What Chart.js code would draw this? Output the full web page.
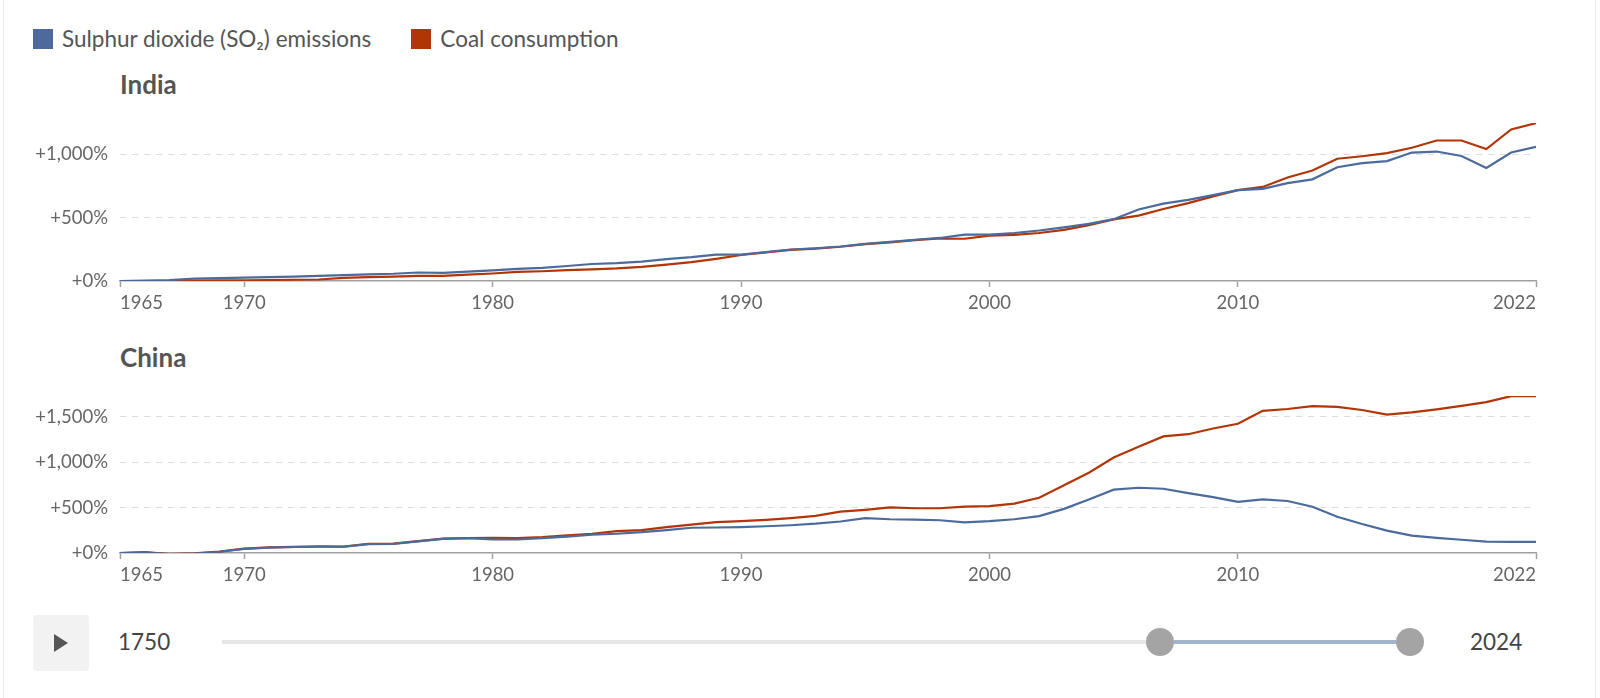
<!DOCTYPE html>
<html>
<head>
<meta charset="utf-8">
<script src="https://cdn.jsdelivr.net/npm/chart.js@4.4.1/dist/chart.umd.min.js"></script>
<style>
  html, body { margin: 0; padding: 0; background: #fff; }
  body { width: 1600px; height: 698px; position: relative; overflow: hidden; font-family: Lato, "Noto Sans", sans-serif; color: #555; }
  .frame { position: absolute; left: 3px; top: 0; width: 1593px; height: 698px; border-left: 1px solid #ececec; border-right: 1px solid #ececec; box-sizing: border-box; }
  .legend { position: absolute; top: 25px; left: 33px; display: flex; align-items: center; font-size: 22.5px; color: #555; }
  .legend .sw { width: 20px; height: 20px; display: inline-block; margin-right: 9px; }
  .legend .item { display: flex; align-items: center; margin-right: 40px; }
  .title { position: absolute; left: 120px; font-size: 26px; font-weight: bold; color: #555; }
  .chartbox { position: absolute; left: 0; width: 1545px; }
  .play { position: absolute; left: 33px; top: 615px; width: 56px; height: 56px; background: #f2f2f2; border-radius: 4px; }
  .play:after { content: ""; position: absolute; left: 21px; top: 19px; border-left: 14px solid #555; border-top: 9px solid transparent; border-bottom: 9px solid transparent; }
  .yr { position: absolute; top: 628px; font-size: 22.5px; color: #444; }
  .track { position: absolute; top: 640px; height: 4px; background: #e6e6e6; }
  .range { position: absolute; top: 640px; height: 4px; background: #a3b5cd; }
  .thumb { position: absolute; top: 628px; width: 28px; height: 28px; border-radius: 50%; background: #a4a4a4; }
</style>
</head>
<body>
<div class="frame"></div>
<div class="legend">
  <div class="item"><span class="sw" style="background:#4C6A9C"></span>Sulphur dioxide (SO₂) emissions</div>
  <div class="item"><span class="sw" style="background:#B13507"></span>Coal consumption</div>
</div>
<div class="title" style="top:68px">India</div>
<div class="chartbox" style="top:100px;height:214px"><canvas id="india"></canvas></div>
<div class="title" style="top:341px">China</div>
<div class="chartbox" style="top:373px;height:213px"><canvas id="china"></canvas></div>

<div class="play"></div>
<div class="yr" style="left:118px">1750</div>
<div class="track" style="left:222px;width:924px"></div>
<div class="range" style="left:1174px;width:222px"></div>
<div class="thumb" style="left:1146px"></div>
<div class="thumb" style="left:1396px"></div>
<div class="yr" style="left:1470px">2024</div>

<script>
const years = [];
for (let y = 1965; y <= 2022; y++) years.push(y);

const xTicks = [1965, 1970, 1980, 1990, 2000, 2010, 2022];
const indiaYTicks = [0, 500, 1000];
const chinaYTicks = [0, 500, 1000, 1500];

const seriesNames = ['Sulphur dioxide (SO₂) emissions', 'Coal consumption'];
const seriesColors = ['#4C6A9C', '#B13507'];

// India, % change since 1965
const indiaSO2 = [0,3,8,18,22,27,31,35,40,47,52,57,67,64,74,84,95,104,118,134,141,153,173,188,208,208,228,248,258,272,292,308,325,339,366,366,378,398,423,450,487,563,609,639,677,716,726,771,801,896,928,945,1012,1020,985,891,1012,1057];
const indiaCoal = [0,-2,0,4,5,6,8,10,12,25,30,35,40,40,50,59,72,77,85,92,99,111,129,149,175,205,225,245,255,270,290,305,322,335,333,358,364,378,403,440,485,515,567,614,667,716,741,816,871,963,983,1007,1050,1107,1107,1040,1194,1244];

// China, % change since 1965
const chinaSO2 = [0,7,-14,-7,14,45,59,66,69,69,97,100,128,156,163,149,149,163,181,201,212,229,253,278,281,285,295,306,323,347,385,372,368,361,337,351,372,406,486,590,698,719,708,660,615,563,590,573,510,399,319,247,191,167,146,125,122,122];
const chinaCoal = [0,9,-11,-5,16,48,62,68,72,71,100,104,131,158,165,167,163,174,194,212,240,253,285,313,340,351,365,385,410,455,476,503,493,493,510,517,545,608,747,885,1052,1170,1285,1309,1372,1424,1566,1587,1618,1611,1576,1524,1549,1583,1622,1663,1729,1729];

function fmtPct(v) { return '+' + Number(v).toLocaleString('en-US') + '%'; }

function makeChart(id, so2, coal, yTicks) {
  const ymax = Math.max(...so2, ...coal);
  const mk = (arr) => arr.map((v, i) => ({ x: years[i], y: v }));
  return new Chart(document.getElementById(id), {
    type: 'line',
    data: {
      datasets: [
        { label: seriesNames[0], data: mk(so2), borderColor: seriesColors[0], backgroundColor: seriesColors[0], borderWidth: 2.2, pointRadius: 0, tension: 0 },
        { label: seriesNames[1], data: mk(coal), borderColor: seriesColors[1], backgroundColor: seriesColors[1], borderWidth: 2.2, pointRadius: 0, tension: 0 }
      ]
    },
    options: {
      responsive: true,
      maintainAspectRatio: false,
      animation: false,
      layout: { padding: { top: 17, right: 9, left: 0, bottom: 0 } },
      plugins: { legend: { display: false }, tooltip: { enabled: false }, title: { display: false } },
      scales: {
        x: {
          type: 'linear',
          min: years[0],
          max: years[years.length - 1],
          afterBuildTicks: (s) => { s.ticks = xTicks.map(v => ({ value: v })); },
          afterFit: (s) => { s.height = 33; },
          grid: { display: true, drawOnChartArea: false, drawTicks: true, tickLength: 6, tickColor: '#a0a0a0', tickWidth: 1.5 },
          border: { display: true, color: '#a0a0a0', width: 1.5 },
          ticks: { align: 'inner', color: '#666', padding: 5, maxRotation: 0, autoSkip: false,
                   font: { family: 'Lato', size: 18.5 }, callback: (v) => String(v) }
        },
        y: {
          type: 'linear',
          min: 0,
          max: ymax,
          afterBuildTicks: (s) => { s.ticks = yTicks.map(v => ({ value: v })); },
          afterFit: (s) => { s.width = 120; },
          grid: { drawTicks: false, color: (ctx) => (ctx.tick && ctx.tick.value === 0) ? 'rgba(0,0,0,0)' : '#dddddd', lineWidth: 1 },
          border: { display: false, dash: [6, 6] },
          ticks: { color: '#666', padding: 12, font: { family: 'Lato', size: 18.5 }, callback: (v) => fmtPct(v) }
        }
      }
    }
  });
}

makeChart('india', indiaSO2, indiaCoal, indiaYTicks);
makeChart('china', chinaSO2, chinaCoal, chinaYTicks);
</script>
</body>
</html>
